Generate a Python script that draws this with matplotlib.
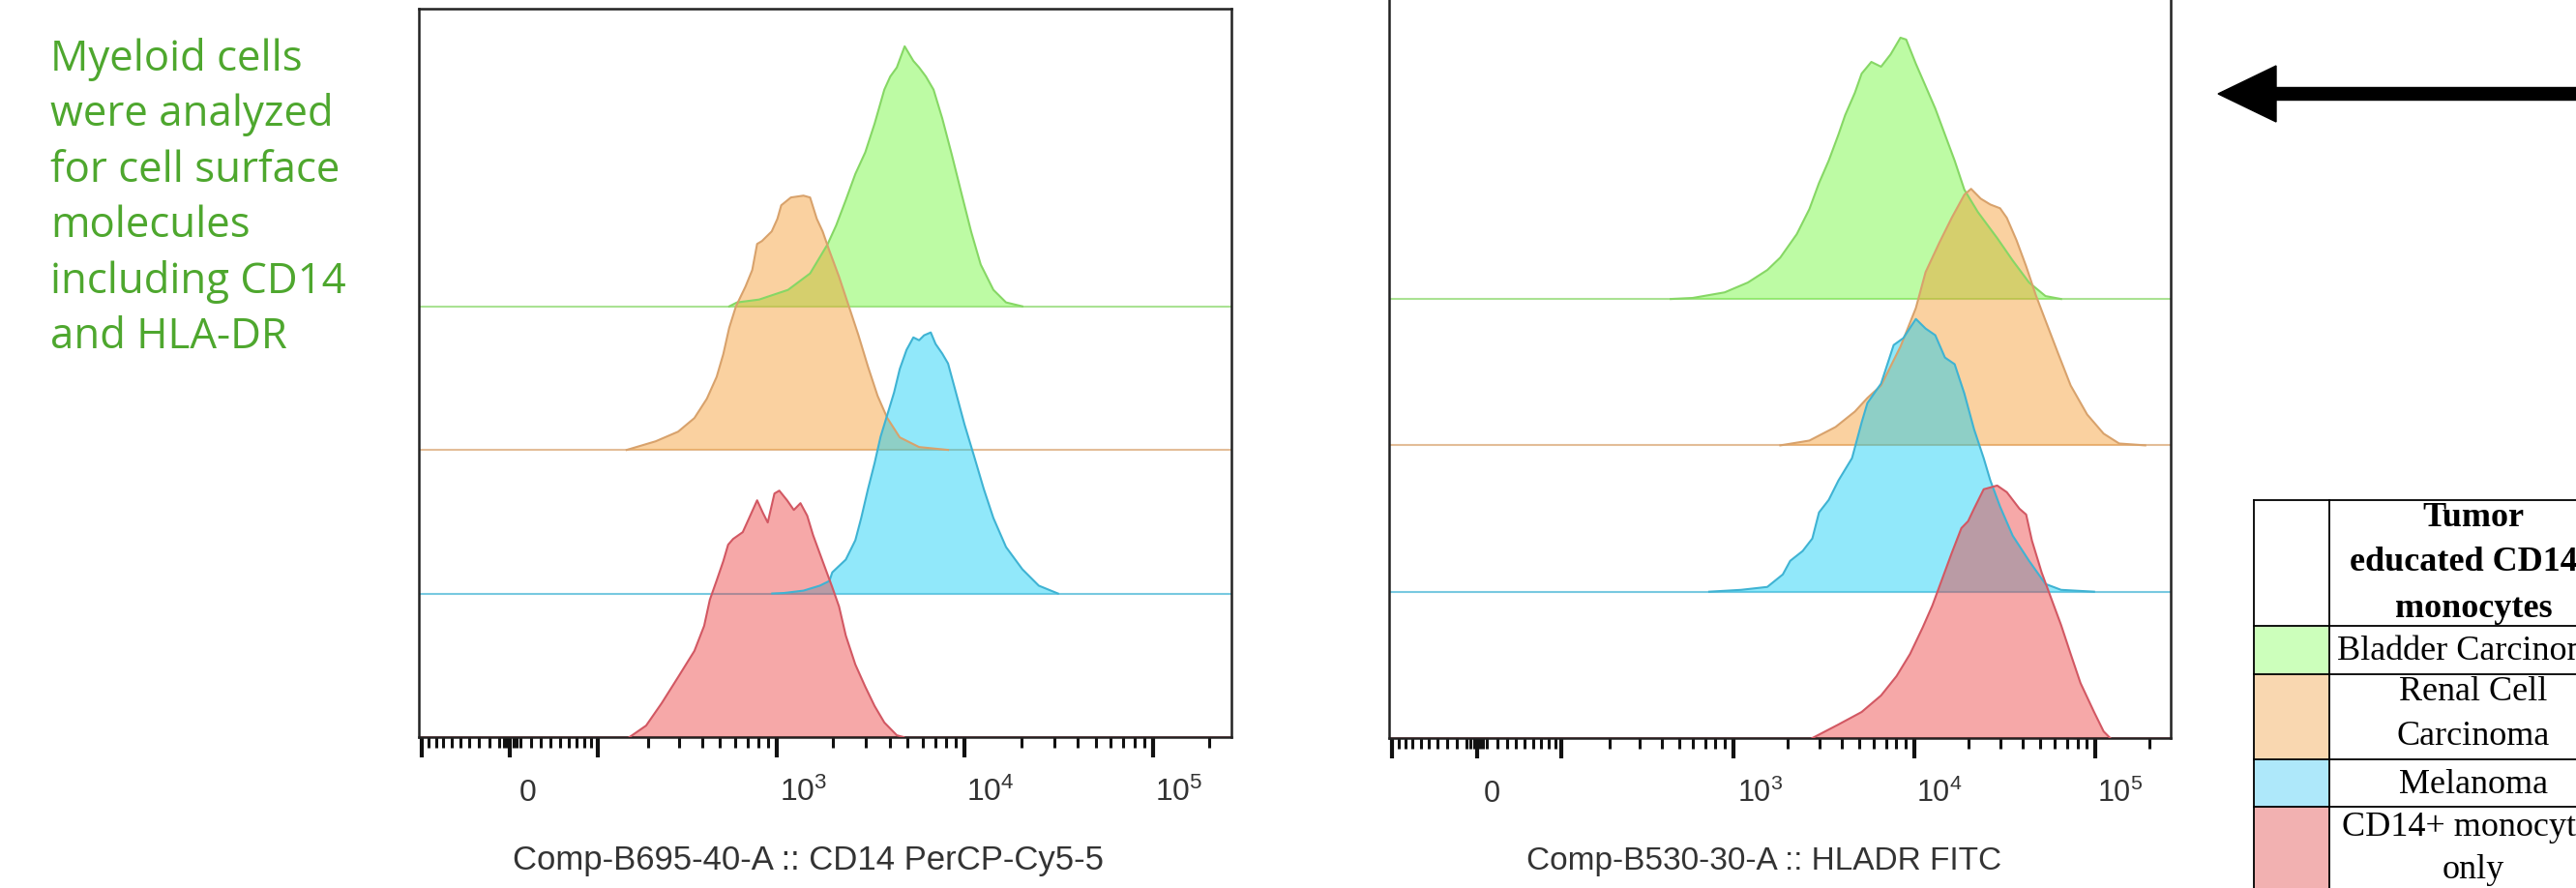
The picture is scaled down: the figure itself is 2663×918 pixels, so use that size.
import matplotlib
matplotlib.use("Agg")
import matplotlib.pyplot as plt
import matplotlib.transforms as mtransforms
from matplotlib.patches import FancyArrow, Rectangle
import numpy as np

plt.rcParams['font.family'] = 'Liberation Sans'

cd14_bladder_x = [560, 616, 809, 1153, 1511, 1870, 2080, 2340, 2630, 2970, 3330, 3750, 4030, 4370, 4810,
                  5350, 5740, 6240, 6850, 7620, 8570, 9660, 10860, 12200, 14250, 16630, 20300]
cd14_bladder_y = [0, 1.5, 2.6, 6.3, 12.6, 23.7, 31, 40.7, 50.7, 59, 70, 83, 88, 91.5, 99.6,
                  94, 91.5, 88, 83, 72, 58, 43, 28.5, 16, 6.3, 1.5, 0]
cd14_renal_x = [151, 222, 296, 363, 424, 479, 520, 559, 608, 684, 743, 789, 837, 944, 1012, 1061,
                1194, 1393, 1511, 1641, 1762, 1914, 2155, 2425, 2730, 3070, 3454, 3890, 4530, 5740, 8180]
cd14_renal_y = [0, 3.3, 7, 12.2, 19.6, 28, 36.7, 46.7, 55, 62.6, 68.9, 78.9, 80, 83.7, 88.5, 93.7,
                96.7, 97.4, 96.7, 88.5, 83.7, 76.3, 66.3, 55.2, 44, 31.9, 20.7, 12.2, 4.8, 1.1, 0]
cd14_melanoma_x = [950, 1100, 1393, 1702, 1914, 1983, 2340, 2630, 2825, 3070, 3330, 3580, 3890, 4225, 4530,
                   4920, 5350, 5740, 6100, 6620, 7020, 7620, 8180, 8890, 10000, 11250, 12670, 14250,
                   16630, 20300, 24830, 31400]
cd14_melanoma_y = [0, 0.2, 1.1, 3, 4.8, 8.1, 13, 20.4, 28.9, 40, 50, 60, 68.5, 77, 86,
                   93.3, 98.1, 97, 98.9, 100, 95.6, 91.9, 88.1, 78.5, 64.8, 52.6, 40, 28.9,
                   17.8, 9.3, 3, 0]
cd14_mono_x = [157, 196, 240, 296, 363, 410, 440, 479, 520, 552, 587, 661, 709, 789, 847, 899, 976,
               1036, 1140, 1238, 1343, 1459, 1567, 1762, 1983, 2155, 2340, 2630, 2970, 3330, 3750, 4370, 4750]
cd14_mono_y = [0, 4.4, 13, 23, 33, 42.6, 52.6, 60, 67.4, 73.7, 75.9, 78.5, 83.3, 90.7, 85.9, 82.2, 93.3,
               94.4, 90.7, 87, 89.6, 84.8, 77.4, 67.4, 57.4, 50, 38.9, 27.8, 19.3, 11.9, 5.6, 0.7, 0]

hla_bladder_x = [450, 597, 899, 1209, 1548, 1827, 2254, 2645, 2990, 3383, 3828, 4170, 4718, 5142, 5818,
                 6582, 7447, 8425, 9064, 10250, 11600, 13120, 14840, 16790, 18990, 22550, 28840,
                 35100, 43260, 53330, 65000]
hla_bladder_y = [0, 0.4, 2.5, 6.2, 10.9, 15.6, 24.4, 33.8, 43.6, 52, 61.8, 69.1, 77.5, 84.7, 89.1,
                 87.3, 92, 98.2, 97.5, 88.4, 80, 71.6, 61.8, 52, 41.1, 32.7, 22.9,
                 14.5, 6.2, 1.1, 0]
hla_renal_x = [1827, 2645, 3690, 4718, 5533, 6582, 8425, 10250, 11600, 13780, 16170, 18990, 20690, 23400,
               26440, 29920, 32600, 36870, 41690, 47180, 53330, 62640, 73450, 90580, 111700, 136100, 189700]
hla_renal_y = [0, 1.8, 6.9, 12.7, 17.8, 22.5, 37.1, 51.6, 65.1, 76, 85.5, 94.2, 96.4, 92.7,
               90.5, 89.1, 85.5, 77.1, 67.3, 56.4, 46.9, 34.5, 22.5, 11.6, 4.4, 0.7, 0]
hla_melanoma_x = [738, 1109, 1548, 1886, 2072, 2428, 2746, 2990, 3383, 3828, 4550, 5142, 5533, 6582, 7728,
                  8737, 10250, 11600, 13120, 14840, 16790, 18990, 21480, 24290, 26440, 29920, 35100,
                  43260, 53330, 65000, 98900]
hla_melanoma_y = [0, 0.7, 1.8, 6.5, 11.6, 15.3, 20, 29.8, 34.5, 41.8, 50.2, 63.6, 70.9, 78.2, 92.7,
                  95.3, 102.5, 98.9, 96.4, 88, 85.5, 74.5, 61.1, 50.2, 41.8, 32, 21.1,
                  11.6, 2.9, 0.7, 0]
hla_mono_x = [2746, 3828, 5142, 6582, 8020, 9520, 11170, 12640, 14290, 16170, 18290, 19920, 21480, 24290,
              28840, 32600, 38280, 41690, 44880, 50800, 57410, 65000, 73450, 83200, 98900, 111700, 121400]
hla_mono_y = [0, 5.1, 9.8, 16, 23.3, 31.6, 41.5, 49.8, 59.6, 69.5, 78.9, 81.5, 86.2, 93.5,
              94.9, 92.4, 86.2, 84, 74.2, 62.2, 52.4, 42.5, 31.6, 20.7, 9.8, 2.5, 0]

lane_offsets = [165, 110, 55, 0]
fill_colors = ['#6ef837', '#f49b2c', '#0bcef6', '#ed3e3e']
edge_colors = ['#86d765', '#d8a26c', '#3fb3d3', '#d25863']
cell_colors = ['#ccffbb', '#f9d7b0', '#aee8fa', '#f2b1b1']

tick_labels = ['0', r'$\mathregular{10^{3}}$', r'$\mathregular{10^{4}}$', r'$\mathregular{10^{5}}$']
tick_label_vals = [0, 1000, 10000, 100000]
major_ticks = [-100, 0, 100, 1000, 10000, 100000]
minor_ticks = [k * 10 ** n for n in (1, 2, 3, 4) for k in range(2, 10)]
minor_ticks += [-k * 10 for k in range(2, 10)]
minor_ticks += [-10, 10, 200000, -6, -3, 3, 6]

text_lines = ["Myeloid cells", "were analyzed", "for cell surface", "molecules",
              "including CD14", "and HLA-DR"]

fig = plt.figure(figsize=(26.63, 9.18), dpi=100)
W, H = 2663, 918


def panel(rect, curves, ylim, xlabel, label_size, label_x, tick_size, lab_dx):
    ax = fig.add_axes(rect)
    for (x, y), off, fc, ec in zip(curves, lane_offsets, fill_colors, edge_colors):
        y = np.array(y) + off
        ax.axhline(off, color=ec, lw=1.5, alpha=0.7, zorder=1)
        ax.fill_between(x, off, y, facecolor=fc, alpha=0.45, lw=0, zorder=2)
        ax.plot(x, y, color=ec, lw=1.5, zorder=3)
    ax.set_xscale('asinh', linear_width=77)
    ax.set_xlim(-105, 262144)
    ax.set_ylim(*ylim)
    ax.set_xticks(major_ticks)
    ax.set_xticks(minor_ticks, minor=True)
    ax.set_xticklabels([])
    ax.set_xticklabels([], minor=True)
    ax.tick_params(axis='x', which='major', direction='out', length=15, width=3, color='#111')
    ax.tick_params(axis='x', which='minor', direction='out', length=8, width=2.2, color='#111')
    ax.tick_params(axis='y', left=False, labelleft=False)
    for s in ax.spines.values():
        s.set_linewidth(1.8)
        s.set_color('#222')
    for v, lab, dx in zip(tick_label_vals, tick_labels, lab_dx):
        tr = ax.get_xaxis_transform() + mtransforms.ScaledTranslation(dx / 100, -0.66, fig.dpi_scale_trans)
        ax.text(v, 0, lab, transform=tr, ha='left', va='baseline', fontsize=tick_size, color='#333')
    tr = ax.transAxes + mtransforms.ScaledTranslation(0, -1.28, fig.dpi_scale_trans)
    ax.text(label_x, 0, xlabel, transform=tr, ha='center', va='center', fontsize=label_size, color='#333')
    return ax


panel([433 / W, (H - 762) / H, 840 / W, 753 / H],
      [(cd14_bladder_x, cd14_bladder_y), (cd14_renal_x, cd14_renal_y),
       (cd14_melanoma_x, cd14_melanoma_y), (cd14_mono_x, cd14_mono_y)],
      (0, 279), "Comp-B695-40-A :: CD14 PerCP-Cy5-5", 25, 0.479, 23, [9, 3, 2, 2])

panel([1436 / W, (H - 763) / H, 808 / W, 784 / H],
      [(hla_bladder_x, hla_bladder_y), (hla_renal_x, hla_renal_y),
       (hla_melanoma_x, hla_melanoma_y), (hla_mono_x, hla_mono_y)],
      (0, 285), "Comp-B530-30-A :: HLADR FITC", 24, 0.48, 22, [7, 4, 2, 2])

# overlay in pixel units for the text, arrow and legend table
ov = fig.add_axes([0, 0, 1, 1])
ov.set_xlim(0, W)
ov.set_ylim(H, 0)
ov.axis('off')

for i, line in enumerate(text_lines):
    ov.text(52, 73 + i * 57.4, line, va='baseline', ha='left', fontsize=31.5,
            family='Open Sans', color='#4ea72e')

ov.add_patch(FancyArrow(2720, 97, -427, 0, width=13, head_width=58, head_length=60,
                        length_includes_head=True, color='black'))

rows = [517, 647, 697, 785, 834, 960]
cols = [2330, 2408, 2706]
for i, c in enumerate(cell_colors):
    ov.add_patch(Rectangle((cols[0], rows[i + 1]), cols[1] - cols[0], rows[i + 2] - rows[i + 1],
                           facecolor=c, edgecolor='none'))
for r in rows[:-1]:
    ov.plot([cols[0], cols[2]], [r, r], color='black', lw=1.3)
for c in cols:
    ov.plot([c, c], [rows[0], rows[-1]], color='black', lw=1.3)

serif = 'Liberation Serif'
for txt, y in zip(["Tumor", "educated CD14+", "monocytes"], [536, 582, 629]):
    ov.text(2557, y, txt, ha='center', va='center', fontsize=26, family=serif, weight='bold')
for txt, y in zip(["Bladder Carcinoma", "Renal Cell", "Carcinoma", "Melanoma", "CD14+ monocytes", "only"],
                  [673, 715, 761, 812, 855, 899]):
    ov.text(2557, y, txt, ha='center', va='center', fontsize=26, family=serif)

fig.savefig("out.png", dpi=100)
